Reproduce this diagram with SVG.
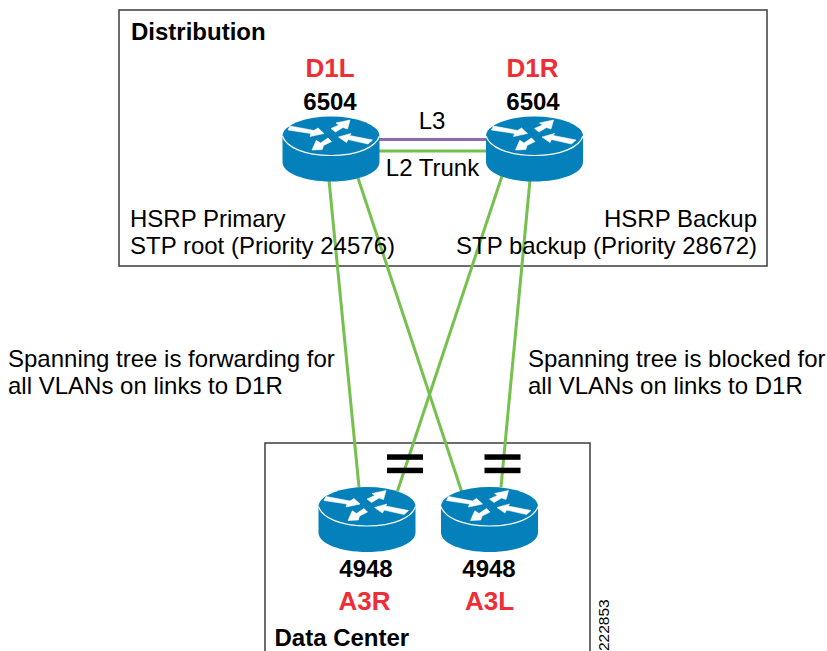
<svg xmlns="http://www.w3.org/2000/svg" width="827" height="651" viewBox="0 0 827 651">
<style>
text{font-family:"Liberation Sans",Arial,sans-serif;font-size:24px;fill:#000}
.b{font-weight:bold;font-size:24px}
.r{font-weight:bold;font-size:26px;fill:#ee2e37}
.box{fill:#fff;stroke:#3c3c3c;stroke-width:1.5}
.g{stroke:#76c04e;stroke-width:3;fill:none}
.p{stroke:#8a6cae;stroke-width:3;fill:none}
.bar{fill:#000}
</style>
<defs>
<g id="router">
<path d="M-48.5 0V26C-48.5 37 -27 45.500 0 45.500S48.500 37 48.500 26V0Z" fill="#0480ba"/>
<ellipse cx="0" cy="0" rx="48.500" ry="19.500" fill="#0480ba"/>
<path d="M-48.500 0C-45 11 -27 19.500 0 19.500S45 11 48.500 0" fill="none" stroke="#fff" stroke-width="1.200"/>
<g fill="#fff" stroke="#fff" stroke-width="0.600" stroke-linejoin="round">
<polygon points="-41,-10 -17,-5.500 -13,-8 -7,-2.500 -21,0.500 -20,-2.500 -43,-6"/>
<polygon points="0,-7.500 8,-11 5,-13 19,-16 16.500,-7 12,-8.500 4.500,-4"/>
<polygon points="41.500,4 18.500,-0.500 20,-2.500 7.500,1 15.500,6.500 17,3.500 37,8"/>
<polygon points="-3,2 -10.500,7 -14.700,4.300 -19,14 -8.700,13.500 -7.500,9.500 0.500,5.500"/>
</g>
</g>
</defs>
<g id="distribution-box"><rect class="box" x="119" y="10" width="648" height="256"/></g>
<g id="datacenter-box"><rect class="box" x="265" y="443" width="325" height="220"/></g>
<g id="connectors">
<line class="p" x1="379" y1="139.500" x2="486" y2="139.500"/>
<line class="g" x1="379" y1="151" x2="486" y2="151"/>
<line class="g" x1="329" y1="180" x2="359" y2="487"/>
<line class="g" x1="358" y1="178" x2="461.500" y2="491"/>
<line class="g" x1="502" y1="176" x2="397.500" y2="491"/>
<line class="g" x1="530" y1="180" x2="501" y2="487"/>
</g>
<g id="D1L"><use href="#router" x="331" y="136"/>
<text class="r" x="330" y="77" text-anchor="middle">D1L</text>
<text class="b" x="330" y="110" text-anchor="middle">6504</text></g>
<g id="D1R"><use href="#router" x="534.500" y="136"/>
<text class="r" x="532.500" y="77" text-anchor="middle">D1R</text>
<text class="b" x="533" y="110" text-anchor="middle">6504</text></g>
<g id="A3R"><use href="#router" x="367" y="506.500"/>
<text class="b" x="366" y="577" text-anchor="middle">4948</text>
<text class="r" x="364.500" y="610" text-anchor="middle">A3R</text></g>
<g id="A3L"><use href="#router" x="489.500" y="506.500"/>
<text class="b" x="489" y="577" text-anchor="middle">4948</text>
<text class="r" x="489.500" y="610" text-anchor="middle">A3L</text></g>
<g id="blocks">
<rect class="bar" x="387" y="454.300" width="36" height="5.500"/>
<rect class="bar" x="387" y="467.700" width="36" height="5.500"/>
<rect class="bar" x="484.500" y="454.300" width="36" height="5.500"/>
<rect class="bar" x="484.500" y="467.700" width="36" height="5.500"/>
</g>
<g id="labels">
<text class="b" x="131" y="40">Distribution</text>
<text x="432" y="129" text-anchor="middle">L3</text>
<text x="432.500" y="176" text-anchor="middle">L2 Trunk</text>
<text x="130" y="227">HSRP Primary</text>
<text x="130" y="254">STP root (Priority 24576)</text>
<text x="757" y="227" text-anchor="end">HSRP Backup</text>
<text x="757" y="254" text-anchor="end">STP backup (Priority 28672)</text>
<text x="8" y="367">Spanning tree is forwarding for</text>
<text x="8" y="394">all VLANs on links to D1R</text>
<text x="528" y="367">Spanning tree is blocked for</text>
<text x="528" y="394">all VLANs on links to D1R</text>
<text class="b" x="274.500" y="646">Data Center</text>
<text transform="translate(609 651) rotate(-90)" style="font-size:15.500px" x="0" y="0">222853</text>
</g>
</svg>
